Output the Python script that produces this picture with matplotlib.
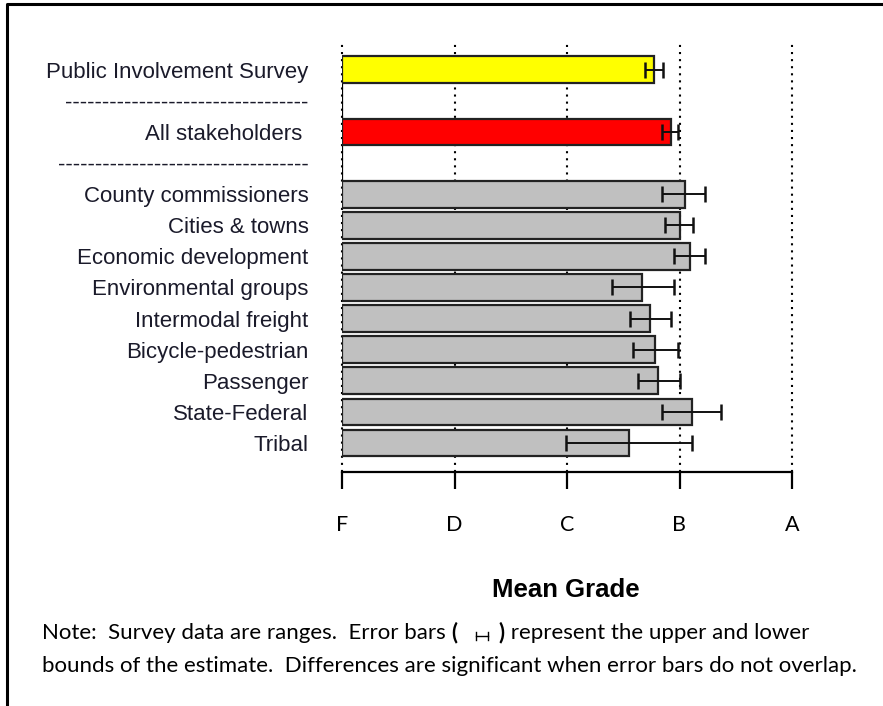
import matplotlib.pyplot as plt
from matplotlib.lines import Line2D

# values (grade scale F=0 ... A=4)
groups = [
    "Tribal",
    "State-Federal",
    "Passenger",
    "Bicycle-pedestrian",
    "Intermodal freight",
    "Environmental groups",
    "Economic development",
    "Cities & towns",
    "County commissioners",
]
group_mean = [2.55, 3.11, 2.81, 2.78, 2.74, 2.67, 3.09, 3.00, 3.05]
group_low = [1.99, 2.84, 2.63, 2.59, 2.56, 2.40, 2.95, 2.87, 2.84]
group_high = [3.11, 3.37, 3.00, 2.99, 2.92, 2.95, 3.23, 3.12, 3.23]

all_label = "All stakeholders"
all_mean = 2.92
all_low = 2.84
all_high = 2.99

survey_label = "Public Involvement Survey"
survey_mean = 2.77
survey_low = 2.69
survey_high = 2.85

grade_pos = [0, 1, 2, 3, 4]
grade_labels = ["F", "D", "C", "B", "A"]

sep1 = "-" * 33
sep2 = "-" * 34

W, H = 883, 706
fig = plt.figure(figsize=(W / 100, H / 100), dpi=100)
ax = fig.add_axes([342 / W, 1 - 472 / H, 450 / W, (472 - 41.7) / H])

n = len(groups)
ypos = list(range(n))
y_all = n + 1
y_survey = n + 3

bar_h = 0.86
edge = dict(edgecolor="#222222", linewidth=1.6, zorder=3)
ax.barh(ypos, group_mean, height=bar_h, color="#c0c0c0", **edge)
ax.barh([y_all], [all_mean], height=bar_h, color="#ff0000", **edge)
ax.barh([y_survey], [survey_mean], height=bar_h, color="#ffff00", **edge)

means = group_mean + [all_mean, survey_mean]
lows = group_low + [all_low, survey_low]
highs = group_high + [all_high, survey_high]
ys = ypos + [y_all, y_survey]
xerr = [[m - lo for m, lo in zip(means, lows)], [hi - m for m, hi in zip(means, highs)]]
ax.errorbar(means, ys, xerr=xerr, fmt="none", ecolor="#111111", elinewidth=1.4,
            capsize=6, capthick=1.8, zorder=4)

# dotted grade lines
for g in grade_pos:
    ax.axvline(g, color="black", linestyle=(0, (1.0, 2.4)), linewidth=1.5, zorder=1,
               clip_on=False)
# solid stretch of the F line between the top bars
ax.plot([0, 0], [n - 0.5, y_survey - bar_h / 2], color="black", linewidth=1.6, zorder=2)

ax.set_xlim(0, 4)
ax.set_ylim(-0.93, 12.9)

for s in ["left", "right", "top"]:
    ax.spines[s].set_visible(False)
ax.spines["bottom"].set_linewidth(1.6)
ax.set_xticks(grade_pos)
ax.set_xticklabels(grade_labels, fontfamily="Lato", fontsize=15.5)
ax.tick_params(axis="x", length=12, width=1.6, pad=19)

ax.set_yticks(ypos + [n, y_all, n + 2, y_survey])
ax.set_yticklabels(groups + [sep2, all_label + " ", sep1, survey_label],
                   fontfamily="Liberation Sans", fontsize=16, color="#1a1a2a")
ax.tick_params(axis="y", length=0, pad=24)

fig.text(566 / W, 1 - 590 / H, "Mean Grade", ha="center", va="center",
         fontfamily="Liberation Sans", fontweight="bold", fontsize=18.5)

# note below the chart
note_kw = dict(fontfamily="Lato", fontsize=16.05, color="black")
t1 = fig.text(42 / W, 1 - 633 / H, "Note:  Survey data are ranges.  Error bars ",
              ha="left", va="center", **note_kw)
t2 = fig.text(0, 0, "(", ha="left", va="bottom", fontweight="bold", **note_kw)
fig.canvas.draw()
r = fig.canvas.get_renderer()
bb = t1.get_window_extent(r)
t2.set_position((bb.x1 / W, bb.y0 / H))
bb2 = t2.get_window_extent(r)
gx0 = bb2.x1 + 18
gx1 = gx0 + 12
gy = (bb.y0 + bb.y1) / 2 - 3
fig.add_artist(Line2D([gx0 / W, gx1 / W], [gy / H, gy / H], color="black", lw=1.0))
for gx in (gx0, gx1):
    fig.add_artist(Line2D([gx / W, gx / W], [(gy - 4) / H, (gy + 4) / H], color="black", lw=1.0))
t3 = fig.text((gx1 + 11) / W, bb.y0 / H, ")", ha="left", va="bottom", fontweight="bold", **note_kw)
bb3 = t3.get_window_extent(r)
fig.text(bb3.x1 / W, bb.y0 / H, " represent the upper and lower", ha="left", va="bottom", **note_kw)
fig.text(42 / W, 1 - 666 / H,
         "bounds of the estimate.  Differences are significant when error bars do not overlap.",
         ha="left", va="center", **note_kw)

# frame around the figure (left and top only)
fig.add_artist(Line2D([7 / W, 7 / W, 1], [0, 1 - 4 / H, 1 - 4 / H], color="black", lw=2.2))

fig.savefig("out.png", dpi=100)
